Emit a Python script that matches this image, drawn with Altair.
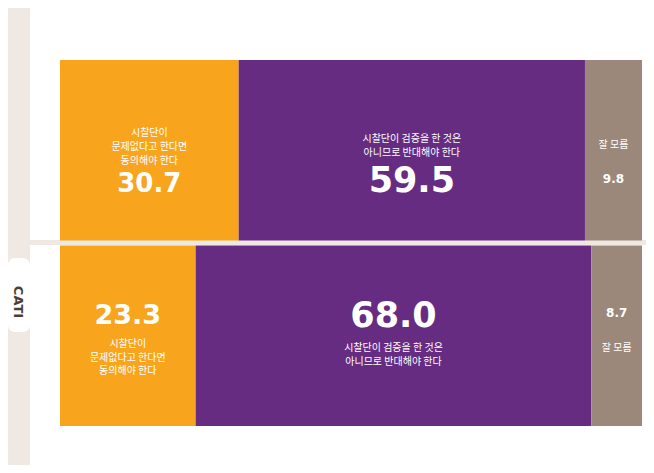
import altair as alt
import pandas as pd

# ---- data ----
rows = ["ARS", "CATI"]
segments = ["동의", "반대", "잘 모름"]
seg_labels = [
    ["시찰단이", "문제없다고 한다면", "동의해야 한다"],
    ["시찰단이 검증을 한 것은", "아니므로 반대해야 한다"],
    ["잘 모름"],
]
values_ars = [30.7, 59.5, 9.8]
values_cati = [23.3, 68.0, 8.7]
colors = ["#F8A51D", "#652C82", "#9C887B"]

recs = []
for r, vals in zip(rows, [values_ars, values_cati]):
    cum = 0.0
    for s, lab, v in zip(segments, seg_labels, vals):
        recs.append({"row": r, "seg": s, "start": cum, "end": cum + v,
                     "mid": cum + v / 2, "value": f"{v:.1f}", "label": lab})
        cum += v
df = pd.DataFrame(recs)

W, H = 638, 457
BEIGE = "#F0E8E2"
KR = "Noto Sans CJK KR"
NUM = "DejaVu Sans"

xs = alt.Scale(domain=[0, 100], range=[52, 634])
ys = alt.Scale(domain=rows, range=[52, 418], paddingInner=0.027, paddingOuter=0)

dummy = pd.DataFrame({"a": [0]})

strip = alt.Chart(dummy).mark_rect(color=BEIGE).encode(
    x=alt.value(0), x2=alt.value(22), y=alt.value(0), y2=alt.value(H))
sep = alt.Chart(dummy).mark_rect(color=BEIGE).encode(
    x=alt.value(22), x2=alt.value(W), y=alt.value(232), y2=alt.value(237))
tab = alt.Chart(dummy).mark_rect(color="white", cornerRadius=7).encode(
    x=alt.value(0), x2=alt.value(22), y=alt.value(250), y2=alt.value(324))
tab_text = alt.Chart(df[df.row == "CATI"].head(1)).mark_text(
    angle=90, font=NUM, fontWeight="bold", fontSize=13, color="#4A3E3A",
    align="center", baseline="middle").encode(
    x=alt.value(10), y=alt.value(294), text="row:N")

bars = alt.Chart(df).mark_bar().encode(
    x=alt.X("start:Q", scale=xs, axis=None),
    x2="end:Q",
    y=alt.Y("row:N", scale=ys, axis=None),
    color=alt.Color("seg:N", scale=alt.Scale(domain=segments, range=colors), legend=None),
)

# text layout (style only): (first label line dy, value dy, value size) per row/segment
layout = {
    ("ARS", "동의"): (-17, 34, 26),
    ("ARS", "반대"): (-11, 31, 35),
    ("ARS", "잘 모름"): (-5, 29, 12),
    ("CATI", "동의"): (8, -20, 27),
    ("CATI", "반대"): (12, -20, 35),
    ("CATI", "잘 모름"): (12.5, -22.5, 12),
}

texts = []
for (r, s), (ldy, vdy, vsize) in layout.items():
    base = alt.Chart(df).transform_filter(
        (alt.datum.row == r) & (alt.datum.seg == s))
    enc = dict(x=alt.X("mid:Q", scale=xs, axis=None),
               y=alt.Y("row:N", scale=ys, axis=None))
    texts.append(base.mark_text(font=KR, fontSize=10, lineHeight=13.8, color="white",
                                align="center", baseline="middle", dy=ldy)
                 .encode(text="label", **enc))
    texts.append(base.mark_text(font=NUM, fontWeight="bold", fontSize=vsize, color="white",
                                align="center", baseline="middle", dy=vdy)
                 .encode(text="value:N", **enc))

chart = alt.layer(strip, sep, tab, tab_text, bars, *texts).properties(
    width=W, height=H, padding=0, autosize="none", background="white"
).configure_view(stroke=None)

chart.save("out.html", embed_options={"renderer": "svg", "actions": False})
